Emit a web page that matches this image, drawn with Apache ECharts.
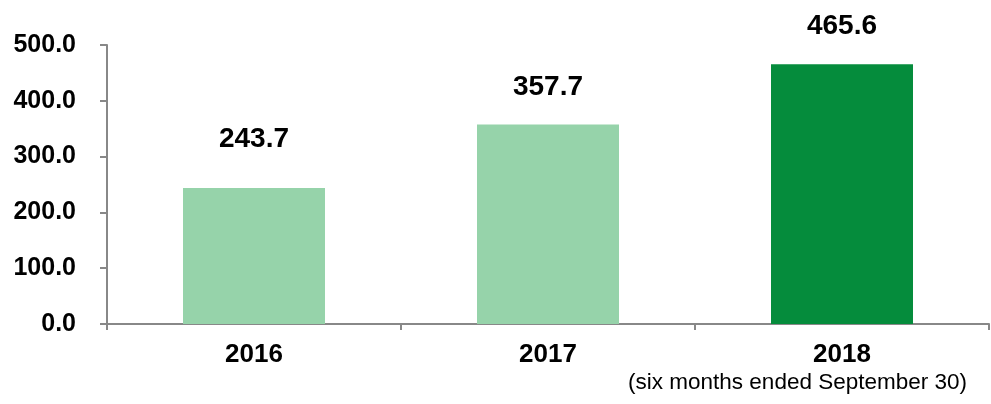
<!DOCTYPE html>
<html>
<head>
<meta charset="utf-8">
<style>
  html, body { margin: 0; padding: 0; background: #fff; }
  #chart { width: 991px; height: 404px; }
</style>
<script src="https://cdn.jsdelivr.net/npm/echarts@6/dist/echarts.min.js"></script>
</head>
<body>
<div id="chart"></div>
<script>
// Yearly values (six months ended September 30)
const categories = ['2016', '2017', '2018'];
const values = [243.7, 357.7, 465.6];
const barColors = ['#96d3aa', '#96d3aa', '#058c3c'];
const labelGaps = [35, 23, 24];
const yTicks = { min: 0, max: 500, interval: 100 };
const footnote = '(six months ended September 30)';

const FONT = '"Liberation Sans", Arial, sans-serif';
const axisGray = '#888888';

const chart = echarts.init(document.getElementById('chart'), null, { renderer: 'canvas' });

chart.setOption({
  animation: false,
  backgroundColor: '#ffffff',
  grid: { left: 107, right: 2, top: 45, bottom: 80, containLabel: false },
  xAxis: {
    type: 'category',
    data: categories,
    axisLine: { lineStyle: { color: axisGray, width: 2 } },
    axisTick: { show: true, length: 6, lineStyle: { color: axisGray, width: 2 } },
    axisLabel: {
      margin: 18,
      color: '#000',
      fontFamily: FONT,
      fontWeight: 'bold',
      fontSize: 26
    }
  },
  yAxis: {
    type: 'value',
    min: yTicks.min,
    max: yTicks.max,
    interval: yTicks.interval,
    splitLine: { show: false },
    axisLine: { show: true, lineStyle: { color: axisGray, width: 2 } },
    axisTick: { show: true, length: 7, lineStyle: { color: axisGray, width: 2 } },
    axisLabel: {
      margin: 31,
      color: '#000',
      fontFamily: FONT,
      fontWeight: 'bold',
      fontSize: 25,
      formatter: v => v.toFixed(1)
    }
  },
  series: [{
    type: 'bar',
    barWidth: 142,
    data: values.map((v, i) => ({
      value: v,
      itemStyle: { color: barColors[i] },
      label: { distance: labelGaps[i] }
    })),
    label: {
      show: true,
      position: 'top',
      color: '#000',
      fontFamily: FONT,
      fontWeight: 'bold',
      fontSize: 28,
      formatter: p => p.value.toFixed(1)
    }
  }],
  graphic: [{
    type: 'text',
    right: 24,
    top: 371,
    style: {
      text: footnote,
      fill: '#000',
      font: '22.5px ' + FONT
    }
  }]
});
</script>
</body>
</html>
